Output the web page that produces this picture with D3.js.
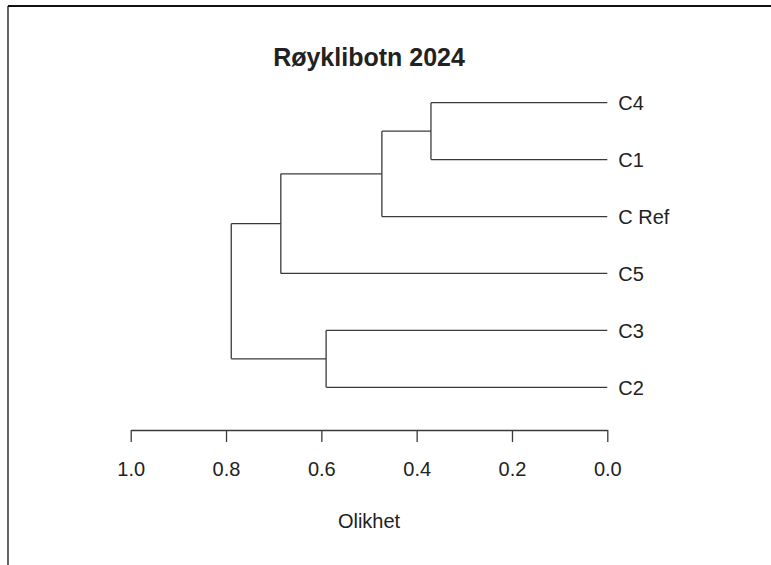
<!DOCTYPE html>
<html>
<head>
<meta charset="utf-8">
<script src="https://cdn.jsdelivr.net/npm/d3@7"></script>
<style>
  html, body { margin: 0; padding: 0; background: #fff; }
  svg { display: block; }
  text { font-family: "Liberation Sans", Arial, sans-serif; fill: #222; }
</style>
</head>
<body>
<svg id="chart" width="771" height="565"></svg>
<script>
// Leaf order, top to bottom
const leafLabels = ["C4", "C1", "C Ref", "C5", "C3", "C2"];
// Agglomeration steps: each merge joins two members (leaf or earlier merge)
const mergeLeft  = ["C4", "m1",    "C3", "m2", "m4"];
const mergeRight = ["C1", "C Ref", "C2", "C5", "m3"];
const mergeHeights = [0.370, 0.473, 0.590, 0.685, 0.789];
// Axis ticks
const tickValues = [1.0, 0.8, 0.6, 0.4, 0.2, 0.0];

const title = "Røyklibotn 2024";
const xLabel = "Olikhet";

const svg = d3.select("#chart");
const W = 771, H = 565;

// Plot frame (top and left edges visible)
svg.append("line").attr("x1", 8).attr("x2", W).attr("y1", 6).attr("y2", 6)
  .attr("stroke", "#111").attr("stroke-width", 2);
svg.append("line").attr("x1", 8).attr("x2", 8).attr("y1", 6).attr("y2", H)
  .attr("stroke", "#111").attr("stroke-width", 1.3);

// Build the tree from the merge lists
const nodes = {};
leafLabels.forEach(l => nodes[l] = { name: l, height: 0 });
mergeHeights.forEach((h, i) => {
  const id = "m" + (i + 1);
  nodes[id] = { name: id, height: h, children: [nodes[mergeLeft[i]], nodes[mergeRight[i]]] };
});
const root = d3.hierarchy(nodes["m" + mergeHeights.length]);

const x = d3.scaleLinear().domain([1, 0]).range([130.7, 607.3]);
const y = d3.scalePoint().domain(leafLabels).range([102.7, 387.3]);

// Leaf y from the scale, internal y = midpoint of the children
root.eachAfter(d => {
  d.py = d.children ? d3.mean(d.children, c => c.py) : y(d.data.name);
  d.px = x(d.data.height);
});

const g = svg.append("g")
  .attr("fill", "none")
  .attr("stroke", "#3a3a3a")
  .attr("stroke-width", 1.3);

root.descendants().filter(d => d.children).forEach(d => {
  const ys = d.children.map(c => c.py);
  g.append("line")
    .attr("x1", d.px).attr("x2", d.px)
    .attr("y1", d3.min(ys)).attr("y2", d3.max(ys));
  d.children.forEach(c => {
    g.append("line")
      .attr("x1", d.px).attr("x2", c.px)
      .attr("y1", c.py).attr("y2", c.py);
  });
});

// Leaf labels
svg.append("g").selectAll("text")
  .data(root.leaves())
  .join("text")
  .attr("x", d => d.px + 11)
  .attr("y", d => d.py)
  .attr("dy", "0.36em")
  .attr("font-size", 20)
  .text(d => d.data.name);

// Bottom axis
const axis = d3.axisBottom(x)
  .tickValues(tickValues)
  .tickFormat(d3.format(".1f"))
  .tickSizeInner(12)
  .tickSizeOuter(0)
  .tickPadding(20);

const ax = svg.append("g")
  .attr("transform", "translate(0,430)")
  .call(axis);
ax.select(".domain").attr("stroke", "#3a3a3a").attr("stroke-width", 1.3);
ax.selectAll(".tick line").attr("stroke", "#3a3a3a").attr("stroke-width", 1.3);
ax.selectAll(".tick text")
  .attr("font-size", 20)
  .attr("font-family", "Liberation Sans, Arial, sans-serif")
  .attr("fill", "#222");

// Title
svg.append("text")
  .attr("x", 369).attr("y", 57)
  .attr("dy", "0.36em")
  .attr("text-anchor", "middle")
  .attr("font-size", 25)
  .attr("font-weight", "bold")
  .text(title);

// Axis title
svg.append("text")
  .attr("x", 369).attr("y", 521)
  .attr("dy", "0.36em")
  .attr("text-anchor", "middle")
  .attr("font-size", 20)
  .text(xLabel);
</script>
</body>
</html>
